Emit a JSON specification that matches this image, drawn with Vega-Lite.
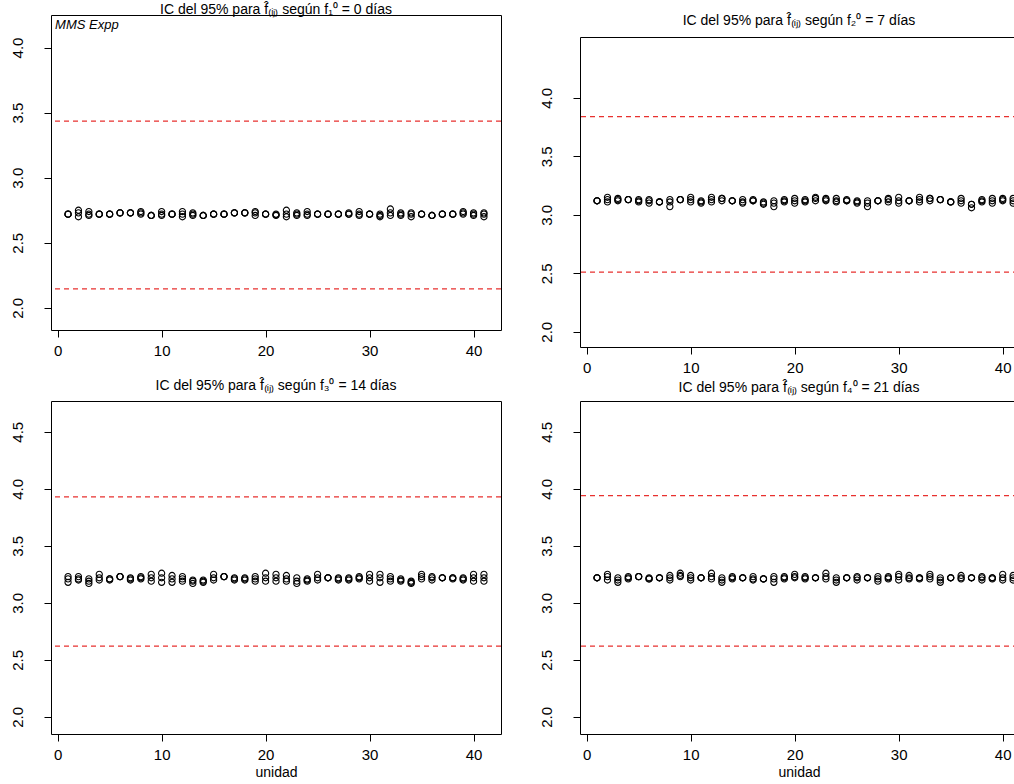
{
  "$schema": "https://vega.github.io/schema/vega-lite/v6.json",
  "padding": {"left": 9, "top": 2, "right": 0, "bottom": 0},
  "background": "white",
  "datasets": {
    "pts": [
      {"p":1,"u":1,"v":[2.72,2.72,2.72]},{"p":1,"u":2,"v":[2.70,2.73,2.75]},{"p":1,"u":3,"v":[2.71,2.72,2.74]},{"p":1,"u":4,"v":[2.72,2.72,2.72]},{"p":1,"u":5,"v":[2.72,2.72,2.72]},{"p":1,"u":6,"v":[2.73,2.73,2.73]},{"p":1,"u":7,"v":[2.73,2.73,2.73]},{"p":1,"u":8,"v":[2.72,2.73,2.74]},{"p":1,"u":9,"v":[2.71,2.71,2.71]},{"p":1,"u":10,"v":[2.71,2.72,2.74]},
      {"p":1,"u":11,"v":[2.72,2.72,2.72]},{"p":1,"u":12,"v":[2.70,2.72,2.74]},{"p":1,"u":13,"v":[2.71,2.72,2.73]},{"p":1,"u":14,"v":[2.71,2.71,2.71]},{"p":1,"u":15,"v":[2.72,2.72,2.72]},{"p":1,"u":16,"v":[2.72,2.72,2.72]},{"p":1,"u":17,"v":[2.73,2.73,2.73]},{"p":1,"u":18,"v":[2.73,2.73,2.73]},{"p":1,"u":19,"v":[2.71,2.73,2.74]},{"p":1,"u":20,"v":[2.72,2.72,2.72]},
      {"p":1,"u":21,"v":[2.71,2.715,2.72]},{"p":1,"u":22,"v":[2.70,2.72,2.75]},{"p":1,"u":23,"v":[2.71,2.72,2.73]},{"p":1,"u":24,"v":[2.71,2.72,2.74]},{"p":1,"u":25,"v":[2.72,2.72,2.72]},{"p":1,"u":26,"v":[2.72,2.72,2.72]},{"p":1,"u":27,"v":[2.72,2.72,2.72]},{"p":1,"u":28,"v":[2.72,2.72,2.73]},{"p":1,"u":29,"v":[2.71,2.72,2.74]},{"p":1,"u":30,"v":[2.72,2.72,2.72]},
      {"p":1,"u":31,"v":[2.70,2.71,2.72]},{"p":1,"u":32,"v":[2.71,2.73,2.76]},{"p":1,"u":33,"v":[2.71,2.72,2.73]},{"p":1,"u":34,"v":[2.70,2.72,2.73]},{"p":1,"u":35,"v":[2.72,2.72,2.72]},{"p":1,"u":36,"v":[2.71,2.71,2.71]},{"p":1,"u":37,"v":[2.72,2.72,2.72]},{"p":1,"u":38,"v":[2.72,2.72,2.72]},{"p":1,"u":39,"v":[2.72,2.73,2.74]},{"p":1,"u":40,"v":[2.71,2.72,2.73]},{"p":1,"u":41,"v":[2.70,2.72,2.73]},

      {"p":2,"u":1,"v":[3.12,3.12,3.12]},{"p":2,"u":2,"v":[3.11,3.13,3.15]},{"p":2,"u":3,"v":[3.12,3.13,3.14]},{"p":2,"u":4,"v":[3.13,3.13,3.13]},{"p":2,"u":5,"v":[3.11,3.12,3.13]},{"p":2,"u":6,"v":[3.10,3.12,3.13]},{"p":2,"u":7,"v":[3.11,3.11,3.11]},{"p":2,"u":8,"v":[3.07,3.11,3.13]},{"p":2,"u":9,"v":[3.13,3.13,3.13]},{"p":2,"u":10,"v":[3.11,3.13,3.15]},
      {"p":2,"u":11,"v":[3.10,3.11,3.12]},{"p":2,"u":12,"v":[3.11,3.13,3.15]},{"p":2,"u":13,"v":[3.12,3.14,3.14]},{"p":2,"u":14,"v":[3.12,3.12,3.12]},{"p":2,"u":15,"v":[3.10,3.11,3.13]},{"p":2,"u":16,"v":[3.12,3.12,3.13]},{"p":2,"u":17,"v":[3.09,3.10,3.11]},{"p":2,"u":18,"v":[3.07,3.10,3.12]},{"p":2,"u":19,"v":[3.11,3.12,3.13]},{"p":2,"u":20,"v":[3.10,3.12,3.14]},
      {"p":2,"u":21,"v":[3.11,3.12,3.13]},{"p":2,"u":22,"v":[3.12,3.14,3.15]},{"p":2,"u":23,"v":[3.12,3.13,3.14]},{"p":2,"u":24,"v":[3.11,3.12,3.14]},{"p":2,"u":25,"v":[3.12,3.12,3.13]},{"p":2,"u":26,"v":[3.10,3.11,3.12]},{"p":2,"u":27,"v":[3.07,3.10,3.12]},{"p":2,"u":28,"v":[3.12,3.12,3.12]},{"p":2,"u":29,"v":[3.11,3.13,3.14]},{"p":2,"u":30,"v":[3.10,3.12,3.15]},
      {"p":2,"u":31,"v":[3.12,3.12,3.12]},{"p":2,"u":32,"v":[3.11,3.13,3.15]},{"p":2,"u":33,"v":[3.12,3.14,3.14]},{"p":2,"u":34,"v":[3.13,3.13,3.13]},{"p":2,"u":35,"v":[3.11,3.11,3.11]},{"p":2,"u":36,"v":[3.10,3.12,3.14]},{"p":2,"u":37,"v":[3.06,3.09,3.09]},{"p":2,"u":38,"v":[3.11,3.12,3.13]},{"p":2,"u":39,"v":[3.10,3.12,3.14]},{"p":2,"u":40,"v":[3.12,3.13,3.14]},{"p":2,"u":41,"v":[3.10,3.12,3.14]},

      {"p":3,"u":1,"v":[3.18,3.21,3.23]},{"p":3,"u":2,"v":[3.20,3.21,3.23]},{"p":3,"u":3,"v":[3.17,3.19,3.21]},{"p":3,"u":4,"v":[3.20,3.22,3.25]},{"p":3,"u":5,"v":[3.20,3.21,3.21]},{"p":3,"u":6,"v":[3.23,3.23,3.23]},{"p":3,"u":7,"v":[3.20,3.21,3.22]},{"p":3,"u":8,"v":[3.21,3.22,3.23]},{"p":3,"u":9,"v":[3.19,3.22,3.25]},{"p":3,"u":10,"v":[3.18,3.22,3.26]},
      {"p":3,"u":11,"v":[3.18,3.21,3.24]},{"p":3,"u":12,"v":[3.19,3.21,3.23]},{"p":3,"u":13,"v":[3.17,3.19,3.20]},{"p":3,"u":14,"v":[3.18,3.19,3.20]},{"p":3,"u":15,"v":[3.20,3.22,3.25]},{"p":3,"u":16,"v":[3.23,3.23,3.23]},{"p":3,"u":17,"v":[3.20,3.21,3.22]},{"p":3,"u":18,"v":[3.20,3.21,3.22]},{"p":3,"u":19,"v":[3.19,3.21,3.23]},{"p":3,"u":20,"v":[3.19,3.22,3.26]},
      {"p":3,"u":21,"v":[3.19,3.22,3.25]},{"p":3,"u":22,"v":[3.19,3.21,3.24]},{"p":3,"u":23,"v":[3.17,3.19,3.22]},{"p":3,"u":24,"v":[3.19,3.20,3.21]},{"p":3,"u":25,"v":[3.20,3.22,3.25]},{"p":3,"u":26,"v":[3.22,3.22,3.22]},{"p":3,"u":27,"v":[3.20,3.21,3.22]},{"p":3,"u":28,"v":[3.20,3.21,3.22]},{"p":3,"u":29,"v":[3.21,3.22,3.23]},{"p":3,"u":30,"v":[3.19,3.22,3.25]},
      {"p":3,"u":31,"v":[3.18,3.22,3.25]},{"p":3,"u":32,"v":[3.19,3.21,3.23]},{"p":3,"u":33,"v":[3.19,3.20,3.21]},{"p":3,"u":34,"v":[3.17,3.18,3.19]},{"p":3,"u":35,"v":[3.21,3.23,3.25]},{"p":3,"u":36,"v":[3.20,3.22,3.23]},{"p":3,"u":37,"v":[3.22,3.22,3.22]},{"p":3,"u":38,"v":[3.21,3.22,3.22]},{"p":3,"u":39,"v":[3.20,3.21,3.22]},{"p":3,"u":40,"v":[3.19,3.22,3.25]},{"p":3,"u":41,"v":[3.19,3.22,3.25]},

      {"p":4,"u":1,"v":[3.22,3.22,3.22]},{"p":4,"u":2,"v":[3.20,3.23,3.25]},{"p":4,"u":3,"v":[3.18,3.20,3.22]},{"p":4,"u":4,"v":[3.21,3.22,3.23]},{"p":4,"u":5,"v":[3.23,3.23,3.23]},{"p":4,"u":6,"v":[3.21,3.21,3.22]},{"p":4,"u":7,"v":[3.22,3.22,3.22]},{"p":4,"u":8,"v":[3.20,3.22,3.24]},{"p":4,"u":9,"v":[3.23,3.24,3.26]},{"p":4,"u":10,"v":[3.20,3.22,3.24]},
      {"p":4,"u":11,"v":[3.22,3.22,3.22]},{"p":4,"u":12,"v":[3.21,3.23,3.26]},{"p":4,"u":13,"v":[3.18,3.20,3.22]},{"p":4,"u":14,"v":[3.21,3.22,3.23]},{"p":4,"u":15,"v":[3.22,3.22,3.22]},{"p":4,"u":16,"v":[3.20,3.21,3.23]},{"p":4,"u":17,"v":[3.21,3.21,3.21]},{"p":4,"u":18,"v":[3.18,3.21,3.23]},{"p":4,"u":19,"v":[3.21,3.22,3.23]},{"p":4,"u":20,"v":[3.22,3.23,3.25]},
      {"p":4,"u":21,"v":[3.21,3.22,3.23]},{"p":4,"u":22,"v":[3.22,3.22,3.22]},{"p":4,"u":23,"v":[3.21,3.23,3.26]},{"p":4,"u":24,"v":[3.18,3.20,3.22]},{"p":4,"u":25,"v":[3.22,3.22,3.22]},{"p":4,"u":26,"v":[3.20,3.22,3.23]},{"p":4,"u":27,"v":[3.22,3.22,3.22]},{"p":4,"u":28,"v":[3.19,3.21,3.23]},{"p":4,"u":29,"v":[3.21,3.22,3.23]},{"p":4,"u":30,"v":[3.20,3.23,3.25]},
      {"p":4,"u":31,"v":[3.21,3.22,3.24]},{"p":4,"u":32,"v":[3.21,3.22,3.22]},{"p":4,"u":33,"v":[3.21,3.23,3.25]},{"p":4,"u":34,"v":[3.18,3.20,3.22]},{"p":4,"u":35,"v":[3.22,3.22,3.22]},{"p":4,"u":36,"v":[3.21,3.22,3.24]},{"p":4,"u":37,"v":[3.22,3.22,3.22]},{"p":4,"u":38,"v":[3.20,3.22,3.23]},{"p":4,"u":39,"v":[3.21,3.22,3.22]},{"p":4,"u":40,"v":[3.20,3.22,3.25]},{"p":4,"u":41,"v":[3.20,3.22,3.24]}
    ],
    "lim": [
      {"p":1,"y":3.435},{"p":1,"y":2.146},
      {"p":2,"y":3.84},{"p":2,"y":2.51},
      {"p":3,"y":3.93},{"p":3,"y":2.62},
      {"p":4,"y":3.94},{"p":4,"y":2.62}
    ],
    "note": [{"u":-0.25,"v":4.17,"t":"MMS Expp"}],
    "empty": []
  },
  "hconcat": [
    {
      "spacing": 19,
      "vconcat": [
        {
          "width": 450, "height": 315,
          "title": {"text": "IC del 95% para f̂₍ᵢⱼ₎ según f₁⁰ = 0 días", "offset": -2},
          "layer": [
            {"data": {"name": "pts"}, "transform": [{"filter": "datum.p == 1"}, {"flatten": ["v"]}],
             "mark": {"type": "point", "shape": "circle", "filled": false, "color": "black", "size": 38, "strokeWidth": 1.1, "opacity": 1},
             "encoding": {
               "x": {"field": "u", "type": "quantitative", "scale": {"domain": [-0.64, 42.64], "nice": false, "zero": false}, "axis": {"values": [0,10,20,30,40], "title": null}},
               "y": {"field": "v", "type": "quantitative", "scale": {"domain": [1.83, 4.25], "nice": false, "zero": false}, "axis": {"values": [2,2.5,3,3.5,4], "format": ".1f", "title": null}}
             }},
            {"data": {"name": "lim"}, "transform": [{"filter": "datum.p == 1"}],
             "mark": {"type": "rule", "color": "#e8312f", "strokeDash": [5,4], "strokeWidth": 1.2},
             "encoding": {"y": {"field": "y", "type": "quantitative"}}},
            {"data": {"name": "note"},
             "mark": {"type": "text", "align": "left", "baseline": "middle", "fontStyle": "italic", "fontSize": 13, "font": "Liberation Sans", "color": "black"},
             "encoding": {"x": {"field": "u", "type": "quantitative"}, "y": {"field": "v", "type": "quantitative"}, "text": {"field": "t"}}}
          ]
        },
        {
          "width": 450, "height": 333,
          "title": {"text": "IC del 95% para f̂₍ᵢⱼ₎ según f₃⁰ = 14 días", "offset": 8},
          "layer": [
            {"data": {"name": "pts"}, "transform": [{"filter": "datum.p == 3"}, {"flatten": ["v"]}],
             "mark": {"type": "point", "shape": "circle", "filled": false, "color": "black", "size": 38, "strokeWidth": 1.1, "opacity": 1},
             "encoding": {
               "x": {"field": "u", "type": "quantitative", "scale": {"domain": [-0.64, 42.64], "nice": false, "zero": false}, "axis": {"values": [0,10,20,30,40], "title": "unidad"}},
               "y": {"field": "v", "type": "quantitative", "scale": {"domain": [1.85, 4.77], "nice": false, "zero": false}, "axis": {"values": [2,2.5,3,3.5,4,4.5], "format": ".1f", "title": null}}
             }},
            {"data": {"name": "lim"}, "transform": [{"filter": "datum.p == 3"}],
             "mark": {"type": "rule", "color": "#e8312f", "strokeDash": [5,4], "strokeWidth": 1.2},
             "encoding": {"y": {"field": "y", "type": "quantitative"}}}
          ]
        }
      ]
    },
    {
      "spacing": 4,
      "vconcat": [
        {
          "spacing": -3,
          "vconcat": [
            {
              "width": 438, "height": 1,
              "view": {"stroke": null},
              "data": {"name": "empty"},
              "mark": {"type": "point", "opacity": 0}
            },
            {
              "width": 438, "height": 310,
              "title": {"text": "IC del 95% para f̂₍ᵢⱼ₎ según f₂⁰ = 7 días", "offset": 9},
              "layer": [
                {"data": {"name": "pts"}, "transform": [{"filter": "datum.p == 2"}, {"flatten": ["v"]}],
                 "mark": {"type": "point", "shape": "circle", "filled": false, "color": "black", "size": 38, "strokeWidth": 1.1, "opacity": 1},
                 "encoding": {
                   "x": {"field": "u", "type": "quantitative", "scale": {"domain": [-0.64, 41.47], "nice": false, "zero": false}, "axis": {"values": [0,10,20,30,40], "title": null}},
                   "y": {"field": "v", "type": "quantitative", "scale": {"domain": [1.87, 4.52], "nice": false, "zero": false}, "axis": {"values": [2,2.5,3,3.5,4], "format": ".1f", "title": null}}
                 }},
                {"data": {"name": "lim"}, "transform": [{"filter": "datum.p == 2"}],
                 "mark": {"type": "rule", "color": "#e8312f", "strokeDash": [5,4], "strokeWidth": 1.2},
                 "encoding": {"y": {"field": "y", "type": "quantitative"}}}
              ]
            }
          ]
        },
        {
          "width": 438, "height": 333,
          "title": {"text": "IC del 95% para f̂₍ᵢⱼ₎ según f₄⁰ = 21 días", "offset": 6},
          "layer": [
            {"data": {"name": "pts"}, "transform": [{"filter": "datum.p == 4"}, {"flatten": ["v"]}],
             "mark": {"type": "point", "shape": "circle", "filled": false, "color": "black", "size": 38, "strokeWidth": 1.1, "opacity": 1},
             "encoding": {
               "x": {"field": "u", "type": "quantitative", "scale": {"domain": [-0.64, 41.47], "nice": false, "zero": false}, "axis": {"values": [0,10,20,30,40], "title": "unidad"}},
               "y": {"field": "v", "type": "quantitative", "scale": {"domain": [1.85, 4.77], "nice": false, "zero": false}, "axis": {"values": [2,2.5,3,3.5,4,4.5], "format": ".1f", "title": null}}
             }},
            {"data": {"name": "lim"}, "transform": [{"filter": "datum.p == 4"}],
             "mark": {"type": "rule", "color": "#e8312f", "strokeDash": [5,4], "strokeWidth": 1.2},
             "encoding": {"y": {"field": "y", "type": "quantitative"}}}
          ]
        }
      ]
    }
  ],
  "spacing": 35,
  "config": {
    "view": {"stroke": "black", "strokeWidth": 1},
    "axis": {"domain": false, "grid": false, "tickColor": "black", "tickSize": 7, "tickWidth": 1, "labelColor": "black", "labelFont": "Liberation Sans", "labelFontSize": 15, "labelFlush": false, "labelOverlap": false, "titleFont": "Liberation Sans", "titleFontWeight": "normal", "titleFontSize": 14, "titleColor": "black", "titlePadding": 3},
    "axisY": {"labelAngle": -90, "labelAlign": "center", "labelBaseline": "bottom", "labelPadding": 19},
    "axisX": {"labelPadding": 6},
    "title": {"font": "Liberation Sans", "fontSize": 14, "fontWeight": "normal", "color": "black", "anchor": "middle", "frame": "group"}
  }
}
